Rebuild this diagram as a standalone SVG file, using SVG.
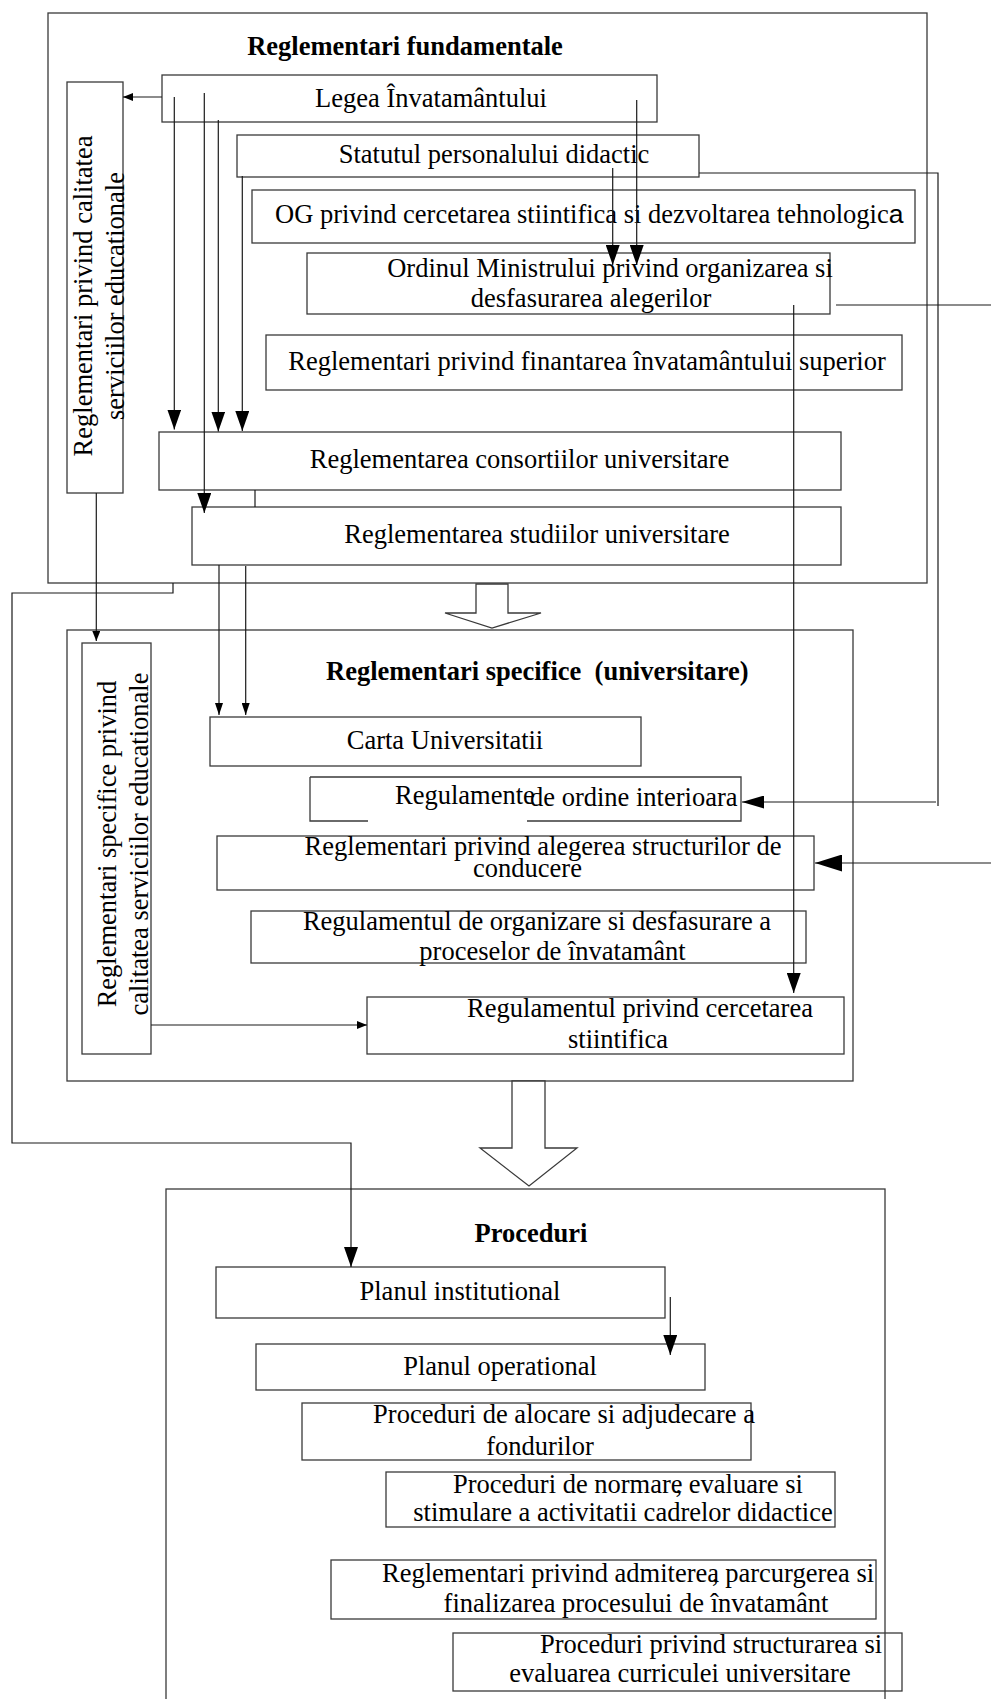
<svg xmlns="http://www.w3.org/2000/svg" width="991" height="1699" viewBox="0 0 991 1699">
<style>
.box{fill:none;stroke:#3a3a3a;stroke-width:1.3}
.wbox{fill:#fff;stroke:#3a3a3a;stroke-width:1.3}
.t{font-family:"Liberation Serif","Times New Roman",serif;font-size:26.5px;fill:#000}
.c{text-anchor:middle}
.b{font-weight:bold}
.ln{fill:none;stroke:#1a1a1a;stroke-width:1.2}
</style>
<defs>
<marker id="aL" markerUnits="userSpaceOnUse" markerWidth="20" markerHeight="14" refX="20" refY="7" orient="auto"><path d="M0,0 L20,7 L0,14 Z" fill="#000"/></marker>
<marker id="aS" markerUnits="userSpaceOnUse" markerWidth="10" markerHeight="8" refX="10" refY="4" orient="auto"><path d="M0,0 L10,4 L0,8 Z" fill="#000"/></marker>
<marker id="aM" markerUnits="userSpaceOnUse" markerWidth="12" markerHeight="8" refX="12" refY="4" orient="auto"><path d="M0,0 L12,4 L0,8 Z" fill="#000"/></marker>
<marker id="aR" markerUnits="userSpaceOnUse" markerWidth="22" markerHeight="13" refX="22" refY="6.5" orient="auto"><path d="M0,0 L22,6.5 L0,13 Z" fill="#000"/></marker>
<marker id="aXL" markerUnits="userSpaceOnUse" markerWidth="27" markerHeight="17" refX="27" refY="8.5" orient="auto"><path d="M0,0 L27,8.5 L0,17 Z" fill="#000"/></marker>
</defs>
<rect width="991" height="1699" fill="#fff"/>

<g id="sec1">
<rect class="box" x="48" y="13" width="879" height="570"/>
<text class="t b c" x="405" y="55">Reglementari fundamentale</text>
</g>
<g id="sec2">
<rect class="box" x="67" y="630" width="786" height="451"/>
<text class="t b" x="326" y="680" xml:space="preserve">Reglementari specifice  (universitare)</text>
</g>
<g id="sec3">
<rect class="box" x="166" y="1189" width="719" height="530"/>
<text class="t b c" x="531" y="1242">Proceduri</text>
</g>

<g id="arrows-hollow">
<polygon class="wbox" points="476,584 508,584 508,613 541,613 492,628 445,613 476,613"/>
<polygon class="wbox" points="512,1081 545,1081 545,1148 577,1148 529,1186 480,1148 512,1148"/>
</g>

<g id="n-calitate1">
<rect class="box" x="67" y="82" width="56" height="411"/>
<text class="t c" transform="translate(92,296) rotate(-90)"><tspan x="0" y="0">Reglementari privind calitatea</tspan><tspan x="0" y="31.5">serviciilor educationale</tspan></text>
</g>
<g id="n-legea">
<rect class="box" x="162" y="75" width="495" height="47"/>
<text class="t c" x="431" y="107">Legea Învatamântului</text>
</g>
<g id="n-statut">
<rect class="box" x="237" y="135" width="462" height="42"/>
<text class="t c" x="494" y="163">Statutul personalului didactic</text>
</g>
<g id="n-og">
<rect class="box" x="252" y="190" width="663" height="53"/>
<text class="t" x="275" y="223">OG privind cercetarea stiintifica si dezvoltarea tehnologic<tspan font-family="Liberation Sans, Arial, sans-serif">a</tspan></text>
</g>
<g id="n-ordinul">
<rect class="box" x="307" y="253" width="523" height="61"/>
<text class="t c" x="610" y="277">Ordinul Ministrului privind organizarea si</text>
<text class="t c" x="591" y="307">desfasurarea alegerilor</text>
</g>
<g id="n-finantare">
<rect class="box" x="266" y="335" width="636" height="55"/>
<text class="t c" x="587" y="370">Reglementari privind finantarea învatamântului superior</text>
</g>
<g id="n-consortii">
<rect class="box" x="159" y="432" width="682" height="58"/>
<text class="t c" x="519.5" y="468">Reglementarea consortiilor universitare</text>
</g>
<g id="n-studii">
<rect class="box" x="192" y="507" width="649" height="58"/>
<text class="t c" x="537" y="543">Reglementarea studiilor universitare</text>
</g>

<g id="n-calitate2">
<rect class="box" x="82" y="643" width="69" height="411"/>
<text class="t c" transform="translate(116,844) rotate(-90)"><tspan x="0" y="0">Reglementari specifice privind</tspan><tspan x="0" y="32">calitatea serviciilor educationale</tspan></text>
</g>
<g id="n-carta">
<rect class="box" x="210" y="717" width="431" height="49"/>
<text class="t c" x="445" y="749">Carta Universitatii</text>
</g>
<g id="n-regulamente">
<path class="box" d="M310,777 H741 V821 H527 M368,821 H310 V777"/>
<text class="t" x="395" y="804">Regulamente<tspan x="530" y="806">de ordine interioara</tspan></text>
</g>
<g id="n-alegere">
<rect class="box" x="217" y="836" width="597" height="54"/>
<text class="t c" x="543" y="855">Reglementari privind alegerea structurilor de</text>
<text class="t c" x="527.5" y="877">conducere</text>
</g>
<g id="n-organizare">
<rect class="box" x="251" y="911" width="555" height="52"/>
<text class="t c" x="537" y="930">Regulamentul de organizare si desfasurare a</text>
<text class="t c" x="552.5" y="960">proceselor de învatamânt</text>
</g>
<g id="n-cercetare">
<rect class="box" x="367" y="997" width="477" height="57"/>
<text class="t c" x="640" y="1017">Regulamentul privind cercetarea</text>
<text class="t c" x="618" y="1048">stiintifica</text>
</g>

<g id="n-planinst">
<rect class="box" x="216" y="1267" width="449" height="51"/>
<text class="t c" x="460" y="1300">Planul institutional</text>
</g>
<g id="n-planop">
<rect class="box" x="256" y="1344" width="449" height="46"/>
<text class="t c" x="500" y="1375">Planul operational</text>
</g>
<g id="n-alocare">
<rect class="box" x="302" y="1403" width="449" height="57"/>
<text class="t c" x="564" y="1423">Proceduri de alocare si adjudecare a</text>
<text class="t c" x="540" y="1455">fondurilor</text>
</g>
<g id="n-normare">
<rect class="box" x="386" y="1472" width="449" height="55"/>
<text class="t" x="453" y="1493">Proceduri de normare<tspan dx="-7">,</tspan> evaluare si</text>
<text class="t c" x="623" y="1521">stimulare a activitatii cadrelor didactice</text>
</g>
<g id="n-admitere">
<rect class="box" x="331" y="1560" width="545" height="59"/>
<text class="t" x="382" y="1582">Reglementari privind admiterea<tspan dx="-7">,</tspan> parcurgerea si</text>
<text class="t c" x="636" y="1612">finalizarea procesului de învatamânt</text>
</g>
<g id="n-structurare">
<rect class="box" x="453" y="1633" width="449" height="58"/>
<text class="t c" x="711" y="1653">Proceduri privind structurarea si</text>
<text class="t c" x="680" y="1682">evaluarea curriculei universitare</text>
</g>

<g id="connectors">
<path class="ln" d="M162,97 H123" marker-end="url(#aS)"/>
<path class="ln" d="M174.3,97 V429.5" marker-end="url(#aL)"/>
<path class="ln" d="M204.3,93 V513" marker-end="url(#aL)"/>
<path class="ln" d="M218.3,120 V431.5" marker-end="url(#aL)"/>
<path class="ln" d="M242.3,176 V431" marker-end="url(#aL)"/>
<path class="ln" d="M612.7,168 V265" marker-end="url(#aL)"/>
<path class="ln" d="M636.7,100 V265" marker-end="url(#aL)"/>
<path class="ln" d="M699,173 H938 V806"/>
<path class="ln" d="M936,802 H742" marker-end="url(#aR)"/>
<path class="ln" d="M836,305 H996 V863 H815" marker-end="url(#aXL)"/>
<path class="ln" d="M793.7,305 V993" marker-end="url(#aL)"/>
<path class="ln" d="M255,490 V507"/>
<path class="ln" d="M219,565 V715" marker-end="url(#aM)"/>
<path class="ln" d="M245.7,566 V715" marker-end="url(#aM)"/>
<path class="ln" d="M96.3,493 V641" marker-end="url(#aS)"/>
<path class="ln" d="M173,583 V593 H12 V1143 H351 V1267" marker-end="url(#aL)"/>
<path class="ln" d="M151,1025 H367" marker-end="url(#aS)"/>
<path class="ln" d="M670.3,1297 V1355" marker-end="url(#aL)"/>
</g>
</svg>
